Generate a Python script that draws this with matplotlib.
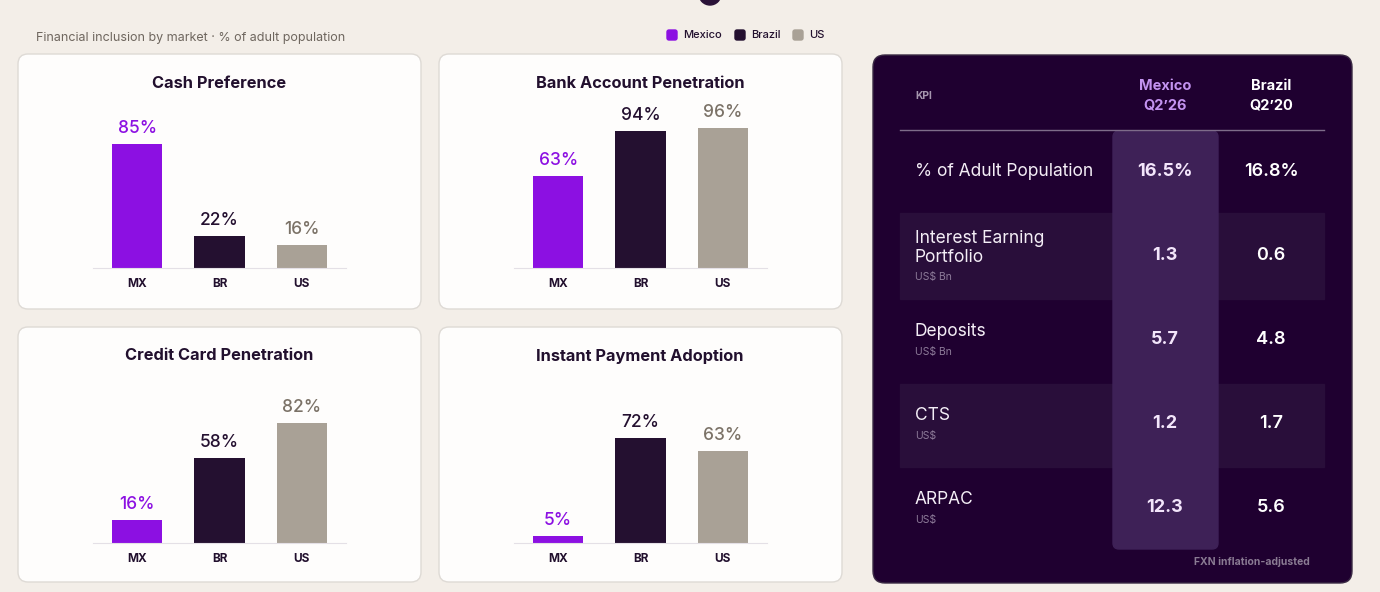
import matplotlib.pyplot as plt
from matplotlib.patches import FancyBboxPatch, Circle, Rectangle

plt.rcParams['font.family'] = ['Inter', 'DejaVu Sans']

# datos de las tarjetas
markets = ['MX', 'BR', 'US']
chart_titles = ['Cash Preference', 'Bank Account Penetration',
                'Credit Card Penetration', 'Instant Payment Adoption']
cash_pref = [85, 22, 16]
bank_account = [63, 94, 96]
credit_card = [16, 58, 82]
instant_pay = [5, 72, 63]
chart_values = [cash_pref, bank_account, credit_card, instant_pay]

legend_names = ['Mexico', 'Brazil', 'US']

# datos de la tabla KPI
kpi_names = ['% of Adult Population', 'Interest Earning\nPortfolio', 'Deposits', 'CTS', 'ARPAC']
kpi_units = ['', 'US$ Bn', 'US$ Bn', 'US$', 'US$']
mexico_q226 = ['16.5%', '1.3', '5.7', '1.2', '12.3']
brazil_q220 = ['16.8%', '0.6', '4.8', '1.7', '5.6']

bar_colors = ['#8c10e2', '#241030', '#a9a196']
label_colors = ['#8c10e2', '#241030', '#7b7267']
dark = '#22102e'
bg = '#f3eee8'
panel = '#1f0030'

W, H = 1380, 592
fig = plt.figure(figsize=(W / 100, H / 100), dpi=100, facecolor=bg)

# eje de fondo en pixeles
bgax = fig.add_axes([0, 0, 1, 1])
bgax.set_xlim(0, W)
bgax.set_ylim(H, 0)
bgax.axis('off')

bgax.add_patch(Circle((710, -6), 11, color='#2a1238'))

bgax.text(36, 38, 'Financial inclusion by market \u00b7 % of adult population',
          fontsize=9, color='#6e665e', va='center')

# leyenda
leg_x = [672, 740, 798]
for i, name in enumerate(legend_names):
    bgax.add_patch(FancyBboxPatch((leg_x[i] - 5, 30), 10, 10,
                                  boxstyle='round,pad=0,rounding_size=2',
                                  color=bar_colors[i]))
    bgax.text(leg_x[i] + 11, 35, name, fontsize=8, fontweight='medium', color=dark, va='center')

# tarjetas
cards = [(18, 54), (439, 54), (18, 327), (439, 327)]
baselines = [268, 268, 543, 543]
for k, (cx, cy) in enumerate(cards):
    bgax.add_patch(FancyBboxPatch((cx, cy), 403, 255,
                                  boxstyle='round,pad=0,rounding_size=10',
                                  facecolor='#fefdfc', edgecolor='#dedad5', lw=1))
    bgax.text(cx + 201, cy + 29, chart_titles[k], fontsize=11.8, fontweight='bold',
              color=dark, ha='center', va='center')

    base = baselines[k]
    ax = fig.add_axes([(cx + 75) / W, (H - base) / H, 253 / W, 146 / H])
    ax.set_facecolor('none')
    vals = chart_values[k]
    bars = ax.bar(range(3), vals, width=0.61, color=bar_colors)
    ax.set_xlim(-0.537, 2.537)
    ax.set_ylim(0, 100)
    for i, b in enumerate(bars):
        ax.annotate(f'{vals[i]}%', (b.get_x() + b.get_width() / 2, vals[i]),
                    xytext=(0, 5), textcoords='offset points', ha='center', va='bottom',
                    fontsize=12.5, fontweight='medium', color=label_colors[i])
    for s in ['top', 'left', 'right']:
        ax.spines[s].set_visible(False)
    ax.spines['bottom'].set_color('#e4e0e6')
    ax.set_yticks([])
    ax.set_xticks(range(3))
    ax.set_xticklabels(markets, fontsize=8.5, fontweight='bold', color=dark)
    ax.tick_params(axis='x', length=0, pad=7.5)

# panel oscuro
bgax.add_patch(FancyBboxPatch((873, 55), 479, 528,
                              boxstyle='round,pad=0,rounding_size=12',
                              facecolor=panel, edgecolor='#3a2a44', lw=1))
bgax.add_patch(Rectangle((900, 213), 424, 86, color='#290e3a'))
bgax.add_patch(Rectangle((900, 384), 424, 83, color='#290e3a'))
bgax.add_patch(FancyBboxPatch((1113, 131), 105, 418,
                              boxstyle='round,pad=0,rounding_size=6',
                              color='#3e2157'))
bgax.plot([900, 1324], [130, 130], color='#7e6c8a', lw=1)

bgax.text(915, 96, 'KPI', fontsize=7.5, fontweight='bold', color='#a596ae', va='center')
bgax.text(1165, 96, 'Mexico\nQ2\u201926', fontsize=10.5, fontweight='bold', color='#c393f0',
          ha='center', va='center', linespacing=1.5)
bgax.text(1271, 96, 'Brazil\nQ2\u201920', fontsize=10.5, fontweight='bold', color='white',
          ha='center', va='center', linespacing=1.5)

row_y = [171, 256, 340, 423, 507]
name_y = [171, 248, 332, 416, 500]
for r in range(5):
    bgax.text(915, name_y[r], kpi_names[r], fontsize=12.5, color='#f4eef6',
              va='center', linespacing=1.1)
    if kpi_units[r]:
        uy = name_y[r] + (29 if r == 1 else 20)
        bgax.text(915, uy, kpi_units[r], fontsize=7.5, color='#8d7b99', va='center')
    bgax.text(1165, row_y[r], mexico_q226[r], fontsize=13, fontweight='bold',
              color='#f3e6fb', ha='center', va='center')
    bgax.text(1271, row_y[r], brazil_q220[r], fontsize=13, fontweight='semibold',
              color='white', ha='center', va='center')

bgax.text(1310, 562, 'FXN inflation-adjusted', fontsize=7.5, fontweight='bold',
          color='#8a7b93', ha='right', va='center')

plt.savefig('out.png', dpi=100, facecolor=bg)
